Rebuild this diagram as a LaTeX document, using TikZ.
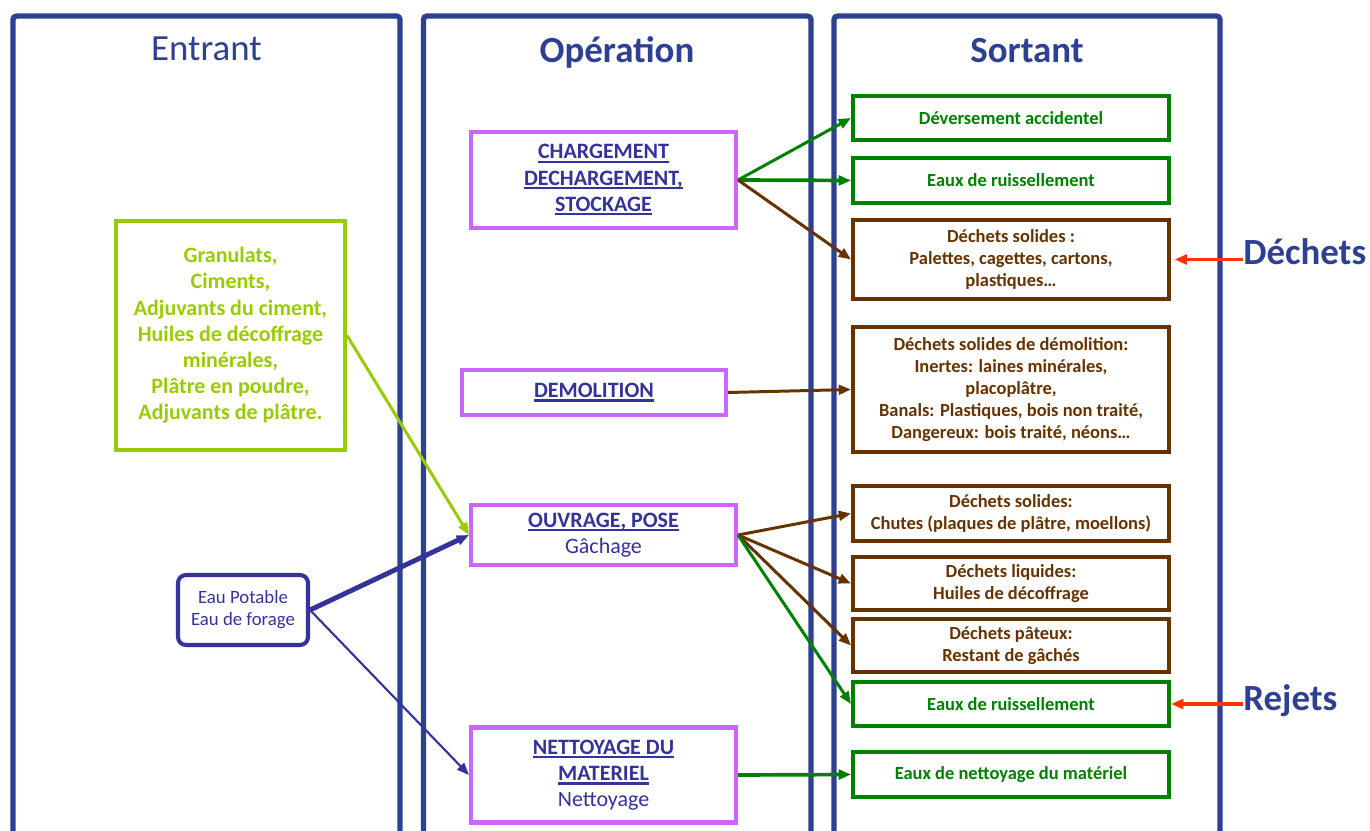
\documentclass[tikz,border=0pt]{standalone}
\usepackage{fontspec}
\setmainfont{Carlito}
\usepackage{tikz}
\usetikzlibrary{arrows.meta}

\definecolor{colblue}{RGB}{46,64,145}
\definecolor{opblue}{RGB}{51,51,153}
\definecolor{opviolet}{RGB}{204,102,255}
\definecolor{ingreen}{RGB}{153,204,0}
\definecolor{outgreen}{RGB}{0,128,0}
\definecolor{outbrown}{RGB}{102,51,0}
\definecolor{tagred}{RGB}{255,51,0}

\newcommand{\opul}[1]{\setbox0\hbox{#1}\rlap{\rule[-2.4pt]{\wd0}{1.4pt}}\box0}

\begin{document}
\begin{tikzpicture}[x=0.02cm, y=-0.02cm,
  column/.style={draw=colblue, line width=3pt, rounded corners=2pt},
  coltitle/.style={text=colblue, anchor=base, font=\fontsize{21}{25}\selectfont},
  opbox/.style={draw=opviolet, line width=2.3pt, text=opblue, align=center,
    minimum width=5.3cm, font=\bfseries\fontsize{12.5}{14.9}\selectfont},
  outbox/.style={line width=2.3pt, align=center, minimum width=6.32cm,
    font=\bfseries\fontsize{10.5}{12.5}\selectfont},
  wetbox/.style={outbox, draw=outgreen, text=outgreen},
  wastebox/.style={outbox, draw=outbrown, text=outbrown},
  tag/.style={text=colblue, inner sep=0pt, font=\bfseries\fontsize{21}{25}\selectfont},
  flow/.style={-{Triangle[length=7pt,width=5.5pt]}, line width=1.7pt}]

  \useasboundingbox (0,0) rectangle (1370,831);

  \draw[column] (13,831) -- (13,16) -- (400,16) -- (400,831);
  \draw[column] (423.5,831) -- (423.5,16) -- (811,16) -- (811,831);
  \draw[column] (834,831) -- (834,16) -- (1220,16) -- (1220,831);

  \node[coltitle] (tin) at (206.5,61) {Entrant};
  \node[coltitle, font=\bfseries\fontsize{21}{25}\selectfont] (top) at (617,63) {Opération};
  \node[coltitle, font=\bfseries\fontsize{21}{25}\selectfont] (tout) at (1027,63) {Sortant};

  \node[draw=ingreen, text=ingreen, line width=2.3pt, align=center,
        minimum width=4.58cm, minimum height=4.58cm,
        font=\bfseries\fontsize{12.5}{14.9}\selectfont] (mat) at (230.5,335.5)
    {Granulats,\\Ciments,\\Adjuvants du ciment,\\Huiles de décoffrage\\minérales,\\Plâtre en poudre,\\Adjuvants de plâtre.};
  \node[draw=opblue, text=opblue, line width=2.3pt, rounded corners=4.5pt, align=center,
        minimum width=2.6cm, minimum height=1.4cm,
        font=\fontsize{10.7}{12.5}\selectfont] (eau) at (243,610)
    {Eau Potable\\Eau de forage};

  \node[opbox, minimum height=1.92cm] (charg) at (603.5,180)
    {\opul{CHARGEMENT}\\\opul{DECHARGEMENT,}\\\opul{STOCKAGE}};
  \node[opbox, minimum width=5.28cm, minimum height=0.9cm] (demol) at (594,392.5)
    {\opul{DEMOLITION}};
  \node[opbox, minimum height=1.2cm] (ouvr) at (603.5,535)
    {\opul{OUVRAGE, POSE}\\{\mdseries Gâchage}};
  \node[opbox, minimum height=1.9cm] (nett) at (603.5,775)
    {\opul{NETTOYAGE DU}\\\opul{MATERIEL}\\{\mdseries Nettoyage}};

  \node[wetbox, minimum height=0.88cm] (dev) at (1011,118) {Déversement accidentel};
  \node[wetbox, minimum height=0.9cm] (ruis1) at (1011,180.5) {Eaux de ruissellement};
  \node[wastebox, minimum height=1.58cm] (sol1) at (1011,259.5)
    {Déchets solides :\\Palettes, cagettes, cartons,\\plastiques…};
  \node[wastebox, minimum height=2.5cm] (demo) at (1011,389.5)
    {Déchets solides de démolition:\\Inertes: laines minérales,\\placoplâtre,\\Banals: Plastiques, bois non traité,\\Dangereux: bois traité, néons…};
  \node[wastebox, minimum height=1.1cm] (sol2) at (1011,513.5)
    {Déchets solides:\\Chutes (plaques de plâtre, moellons)};
  \node[wastebox, minimum height=1.06cm] (liq) at (1011,583.5)
    {Déchets liquides:\\Huiles de décoffrage};
  \node[wastebox, minimum height=1.06cm] (pat) at (1011,645.5)
    {Déchets pâteux:\\Restant de gâchés};
  \node[wetbox, minimum height=0.88cm] (ruis2) at (1011,704) {Eaux de ruissellement};
  \node[wetbox, minimum height=0.9cm] (net) at (1011,774.5) {Eaux de nettoyage du matériel};

  \node[tag, anchor=base west] (dechets) at (1243,265) {Déchets};
  \node[tag, anchor=base west] (rejets) at (1243,710) {Rejets};

  \draw[flow, ingreen] (mat.east) -- (ouvr.west);
  \draw[flow, opblue, line width=2.8pt] (eau.east) -- (ouvr.west);
  \draw[flow, opblue, line width=1.2pt] (eau.east) -- (nett.west);

  \draw[flow, outgreen] (charg.east) -- (dev.west);
  \draw[flow, outgreen, line width=2.1pt] (charg.east) -- (ruis1.west);
  \draw[flow, outbrown] (charg.east) -- (sol1.west);
  \draw[flow, outbrown] (demol.east) -- (demo.west);
  \draw[flow, outbrown] (ouvr.east) -- (sol2.west);
  \draw[flow, outbrown] (ouvr.east) -- (liq.west);
  \draw[flow, outbrown] (ouvr.east) -- (pat.west);
  \draw[flow, outgreen] (ouvr.east) -- (ruis2.west);
  \draw[flow, outgreen, line width=2.1pt] (nett.east) -- (net.west);

  \draw[flow, tagred, line width=2.2pt, shorten >=2pt] (dechets.west |- sol1.east) -- (sol1.east);
  \draw[flow, tagred, line width=2.2pt] (rejets.west |- ruis2.east) -- (ruis2.east);

\end{tikzpicture}
\end{document}
